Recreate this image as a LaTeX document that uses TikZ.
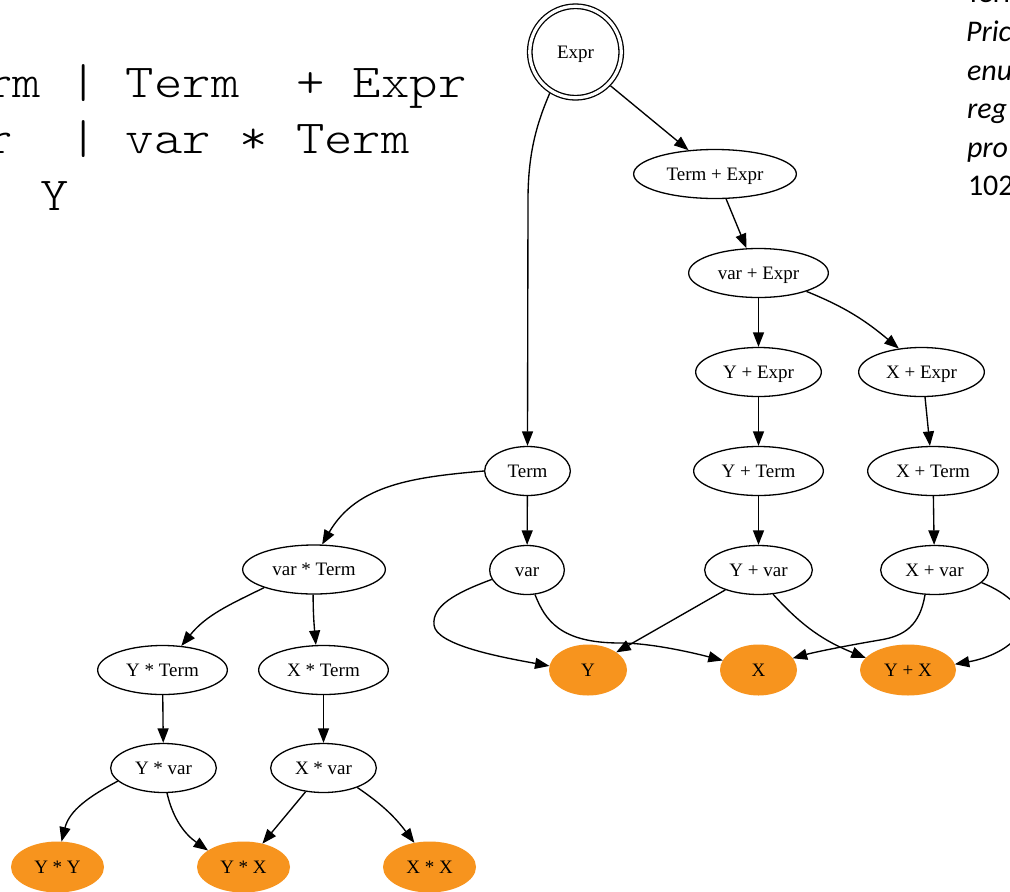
\documentclass[tikz,border=0pt]{standalone}
\usepackage{fontspec}
\setmainfont{Liberation Serif}
\newfontfamily\codefont[FakeStretch=1.143]{lmmonolt10-regular.otf}
\newfontfamily\notefont{Carlito}
\usetikzlibrary{arrows.meta,shapes.geometric}
\definecolor{leaf}{RGB}{247,148,30}
\begin{document}
\begin{tikzpicture}[x=1pt,y=-1pt,
  every node/.style={inner sep=0pt, outer sep=0pt},
  label text/.style={font=\fontsize{19}{22}\selectfont, text height=12.6pt, text depth=0pt},
  state/.style={ellipse, draw, line width=1.3pt, outer sep=0.65pt,
    minimum height=49pt, label text},
  leafnode/.style={ellipse, fill=leaf, outer sep=0pt,
    minimum height=51pt, label text},
  start/.style={circle, draw, line width=1.3pt, double=white,
    double distance=3.2pt, minimum size=91.5pt, outer sep=2.9pt, label text},
  edge/.style={line width=1.35pt, -{Triangle[length=14.5pt,width=11pt]}},
  code/.style={anchor=base west, font=\codefont\fontsize{47.3}{56}\selectfont},
  note/.style={anchor=base west, font=\notefont\fontsize{30}{36}\selectfont}]

\useasboundingbox (0,0) rectangle (1010,892);
\clip (0,0) rectangle (1010,892);
\fill[white] (0,0) rectangle (1010,892);

% grammar lines
\node[code] (g1) at (-16,97) {rm~|~Term~~+~Expr};
\node[code] (g2) at (-16,153) {r~~|~var~*~Term};
\node[code] (g3) at (40.8,210) {Y};

% side notes
\node[note] (n0) at (966,2) {Term};
\node[note] (n1) at (966,41.5) {\itshape Pric};
\node[note] (n2) at (967,80) {\itshape enu};
\node[note] (n3) at (967,118.5) {\itshape reg};
\node[note] (n4) at (967,157) {\itshape pro};
\node[note] (n5) at (968,195.5) {102};

% derivation states
\node[start] (Expr) at (575.5,52) {Expr};
\node[state, minimum width=162.7pt] (TE) at (715,174) {Term + Expr};
\node[state, minimum width=139.7pt] (VE) at (758.5,273) {var + Expr};
\node[state, minimum width=125.7pt] (YE) at (758.5,372) {Y + Expr};
\node[state, minimum width=125.7pt] (XE) at (921.5,372) {X + Expr};
\node[state, minimum width=129.7pt] (YT) at (758.5,471) {Y + Term};
\node[state, minimum width=130.7pt] (XT) at (933,471) {X + Term};
\node[state, minimum width=85.7pt] (T) at (527.5,471) {Term};
\node[state, minimum width=142.7pt] (VT) at (314,569.5) {var * Term};
\node[state, minimum width=74.7pt] (V) at (527,570) {var};
\node[state, minimum width=107.7pt] (YV) at (758.5,570) {Y + var};
\node[state, minimum width=107.7pt] (XV) at (934.5,570) {X + var};
\node[state, minimum width=129.7pt] (YTm) at (162.5,670) {Y * Term};
\node[state, minimum width=129.7pt] (XTm) at (323.5,670) {X * Term};
\node[state, minimum width=105.7pt] (YVm) at (163.5,768) {Y * var};
\node[state, minimum width=105.7pt] (XVm) at (323.5,768) {X * var};

% final strings
\node[leafnode, minimum width=78pt] (Y) at (588,670) {Y};
\node[leafnode, minimum width=77pt] (X) at (758.5,670) {X};
\node[leafnode, minimum width=96pt] (YX) at (908,670) {Y + X};
\node[leafnode, minimum width=93pt] (YY) at (57.5,867) {Y * Y};
\node[leafnode, minimum width=93pt] (YXm) at (243.5,867) {Y * X};
\node[leafnode, minimum width=93pt] (XX) at (429.5,867) {X * X};

% derivation steps
\draw[edge] (Expr.-122) .. controls (536,125) and (528,155) .. (528,200) -- (T.north);
\draw[edge] (Expr.-44) -- (TE.138);
\draw[edge] (TE.-66) -- (VE.116);
\draw[edge] (VE) -- (YE);
\draw[edge] (VE.-21) to[out=-22, in=140] (XE.134);
\draw[edge] (YE) -- (YT);
\draw[edge] (XE.-82) -- (XT.97);
\draw[edge] (YT) -- (YV);
\draw[edge] (XT) -- (XV);
\draw[edge] (T.180) to[out=185, in=60] (VT.72);
\draw[edge] (T) -- (V);
\draw[edge] (VT.-160) to[out=-154, in=51] (YTm.52);
\draw[edge] (VT.-92) to[out=-90, in=95] (XTm.107);
\draw[edge] (YTm) -- (YVm);
\draw[edge] (XTm) -- (XVm);
\draw[edge] (YVm.-164) to[out=-152, in=76] (YY.81);
\draw[edge] (YVm.-82) to[out=-77, in=145] (YXm.155);
\draw[edge] (XVm.-127) -- (YXm.51);
\draw[edge] (XVm.-30) to[out=-34, in=127] (XX.122);
\draw[edge] (V.-165) .. controls (455,593) and (432,606) .. (434,625)
  .. controls (436,645) and (500,657) .. (Y.174);
\draw[edge] (V.-72) .. controls (545,620) and (560,643) .. (620,643)
  .. controls (650,643) and (690,652) .. (X.165);
\draw[edge] (YV.-149) -- (Y.32);
\draw[edge] (YV.-59) to[out=-48, in=158] (YX.164);
\draw[edge] (XV.-111) .. controls (920,625) and (905,636) .. (880,640)
  .. controls (850,645) and (815,652) .. (X.19);
\draw[edge] (XV.-15) .. controls (1000,590) and (1025,605) .. (1022,625)
  .. controls (1019,645) and (990,658) .. (YX.7);
\end{tikzpicture}
\end{document}
